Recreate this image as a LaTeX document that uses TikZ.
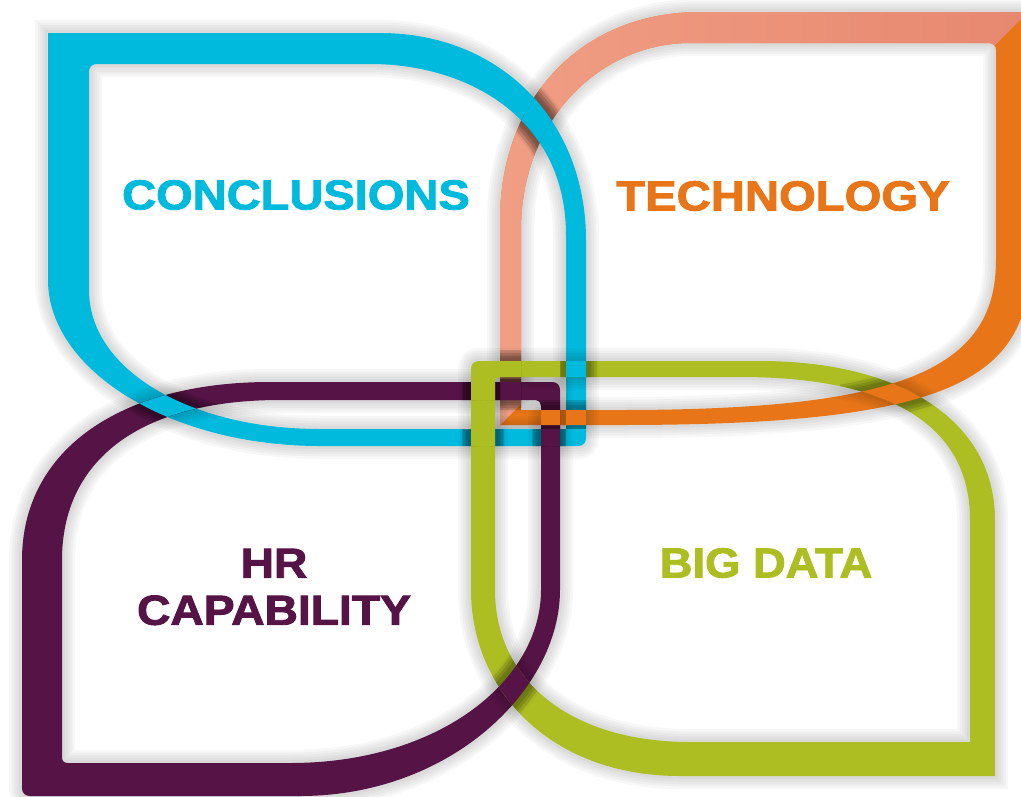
\documentclass[tikz,border=0pt]{standalone}
\usepackage{fontspec}
\setmainfont{Liberation Sans}
\newfontfamily\titlefont{Liberation Sans Bold}[FakeBold=2]
\usepackage{tikz}
\definecolor{leafcyan}{RGB}{0,186,221}
\definecolor{leaforange}{RGB}{232,118,24}
\definecolor{peachA}{RGB}{240,158,132}
\definecolor{peachB}{RGB}{231,136,112}
\definecolor{leafgreen}{RGB}{173,190,35}
\definecolor{leafplum}{RGB}{86,20,70}
\tikzset{
  leaf/.style={fill=#1, even odd rule},
  glow/.style={draw=black, opacity=#1},
  leaftext/.style={font=\titlefont\fontsize{42}{47}\selectfont, text=#1,
                   align=center, inner sep=0pt},
}
% the four leaves, outer rim then inner rim (even odd fill gives the band)
\newcommand{\leafTL}{%
  (48,33) -- (380,33) .. controls (500,33) and (586,120) .. (586,240)
  -- (586,438) .. controls (586,443) and (583,446) .. (578,446)
  -- (320,446) .. controls (170,446) and (48,370) .. (48,280) -- cycle
  (89,72) .. controls (89,67) and (92,64) .. (97,64)
  -- (370,64) .. controls (470,64) and (566,120) .. (566,235)
  -- (566,429) -- (320,429) .. controls (190,429) and (89,370) .. (89,290) -- cycle}
\newcommand{\leafTR}{%
  (1030,12) -- (700,12) .. controls (580,12) and (500,100) .. (500,220)
  -- (500,425) -- (620,425) .. controls (950,425) and (1030,380) .. (1030,260) -- cycle
  (996,50) .. controls (996,46) and (993,43) .. (989,43)
  -- (690,43) .. controls (600,43) and (521,120) .. (521,230)
  -- (521,410) -- (620,410) .. controls (900,410) and (996,370) .. (996,260) -- cycle}
\newcommand{\leafBL}{%
  (560,390) .. controls (560,385) and (557,382) .. (552,382)
  -- (270,382) .. controls (120,382) and (22,450) .. (22,560)
  -- (22,788) .. controls (22,793) and (25,796) .. (30,796)
  -- (300,796) .. controls (450,796) and (560,690) .. (560,590) -- cycle
  (541,406) .. controls (541,403) and (539,400) .. (536,400)
  -- (280,400) .. controls (140,400) and (62,460) .. (62,560)
  -- (62,757) .. controls (62,761) and (64,763) .. (68,763)
  -- (290,763) .. controls (440,763) and (541,680) .. (541,590) -- cycle}
\newcommand{\leafBR}{%
  (471,369) .. controls (471,364) and (474,361) .. (479,361)
  -- (760,361) .. controls (900,361) and (995,420) .. (995,520)
  -- (995,776) -- (680,776) .. controls (550,776) and (471,690) .. (471,590) -- cycle
  (495,382) .. controls (495,379) and (497,377) .. (500,377)
  -- (740,377) .. controls (890,377) and (970,425) .. (970,520)
  -- (970,742) -- (690,742) .. controls (570,742) and (495,680) .. (495,590) -- cycle}
% soft shadow round a leaf
\newcommand{\leafshadow}[1]{%
  \foreach \w in {26,21,16,11,6}{
    \draw[glow=0.03, line width=\w pt] #1;
  }}
% #1 leaf on top, #2 its colour, #3 leaf underneath, #4 window
\newcommand{\crossing}[4]{%
  \begin{scope}[even odd rule]
    \clip #4;
    \clip #3;
    \leafshadow{#1}
    \foreach \w in {22,16,10}{
      \draw[glow=0.09, line width=\w pt] #1;
    }
    \fill[leaf=#2] #1;
  \end{scope}}

\begin{document}
\begin{tikzpicture}[x=1pt,y=-1pt]
  \useasboundingbox (0,0) rectangle (1021,796);
  \clip (0,0) rectangle (1021,796);
  % Leaves, back to front
  \leafshadow{\leafTR}
  \fill[leaf=leaforange] \leafTR;
  \begin{scope}
    \clip (478,447) -- (530,395) -- (985,55) -- (1045,-5) -- (478,-5) -- cycle;
    \shade[left color=peachA, right color=peachB, even odd rule] \leafTR;
  \end{scope}
  \leafshadow{\leafTL}
  \fill[leaf=leafcyan] \leafTL;
  \leafshadow{\leafBL}
  \fill[leaf=leafplum] \leafBL;
  \leafshadow{\leafBR}
  \fill[leaf=leafgreen] \leafBR;
  % Crossings: shade the lower band, lay the upper one again
  \crossing{\leafTL}{leafcyan}{\leafTR}{(478,50) rectangle (610,235)}
  \crossing{\leafTL}{leafcyan}{\leafBL}{(95,350) rectangle (335,470)}
  \crossing{\leafTL}{leafcyan}{\leafBR}{(560,350) rectangle (600,392)}
  \crossing{\leafTR}{leaforange}{\leafBL}{(526,400) rectangle (600,428)}
  \crossing{\leafTR}{leaforange}{\leafTL}{(526,400) rectangle (600,428)}
  \crossing{\leafTR}{leaforange}{\leafBR}{(840,320) rectangle (1021,460)}
  \crossing{\leafBL}{leafplum}{\leafBR}{(425,585) rectangle (600,765)}
  \crossing{\leafBL}{leafplum}{\leafTR}{(495,379) rectangle (526,409)}
  \crossing{\leafBL}{leafplum}{\leafTL}{(532,427) rectangle (566,452)}
  \crossing{\leafBR}{leafgreen}{\leafTR}{(495,350) rectangle (526,381)}
  \crossing{\leafBR}{leafgreen}{\leafTL}{(462,420) rectangle (504,452)}
  \crossing{\leafBR}{leafgreen}{\leafBL}{(462,380) rectangle (500,404)}
  % Titles
  \node[leaftext=leafcyan] (conclusions) at (296,195) {\scalebox{1.12}[1]{CONCLUSIONS}};
  \node[leaftext=leaforange] (technology) at (783,196) {\scalebox{1.125}[1]{TECHNOLOGY}};
  \node[leaftext=leafplum] (hrcap) at (274,587) {\scalebox{1.1}[1]{HR}\\\scalebox{1.1}[1]{CAPABILITY}};
  \node[leaftext=leafgreen] (bigdata) at (766,563) {\scalebox{1.08}[1]{BIG DATA}};
\end{tikzpicture}
\end{document}
